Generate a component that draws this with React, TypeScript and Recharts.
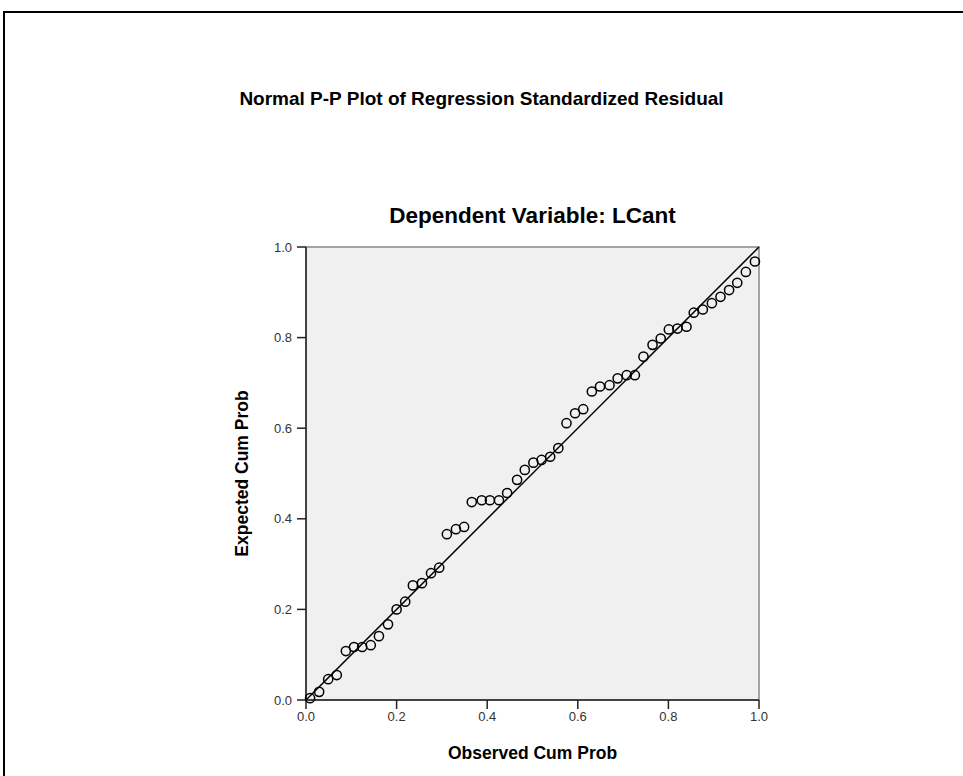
import {
  ScatterChart,
  Scatter,
  XAxis,
  YAxis,
  ReferenceArea,
  ReferenceLine,
  Label,
} from "recharts";

// observed cumulative probability (x) and expected cumulative probability (y)
const observed = [
  0.009, 0.029, 0.049, 0.068, 0.088, 0.106, 0.124, 0.143, 0.161, 0.181,
  0.2, 0.219, 0.236, 0.256, 0.276, 0.294, 0.311, 0.331, 0.349, 0.366,
  0.388, 0.406, 0.426, 0.444, 0.466, 0.483, 0.502, 0.52, 0.539, 0.557,
  0.575, 0.594, 0.612, 0.631, 0.649, 0.67, 0.688, 0.708, 0.726, 0.745,
  0.765, 0.783, 0.801, 0.82, 0.84, 0.856, 0.876, 0.896, 0.915, 0.934,
  0.952, 0.971, 0.991,
];
const expected = [
  0.004, 0.018, 0.046, 0.055, 0.108, 0.117, 0.117, 0.121, 0.141, 0.167,
  0.2, 0.217, 0.253, 0.258, 0.28, 0.292, 0.366, 0.377, 0.382, 0.437,
  0.441, 0.441, 0.441, 0.457, 0.486, 0.508, 0.524, 0.53, 0.537, 0.556,
  0.611, 0.633, 0.642, 0.681, 0.692, 0.695, 0.71, 0.717, 0.717, 0.758,
  0.784, 0.798, 0.818, 0.82, 0.824, 0.855, 0.862, 0.876, 0.89, 0.905,
  0.921, 0.945, 0.968,
];
const ticks = [0, 0.2, 0.4, 0.6, 0.8, 1];

const points = observed.map((x, i) => ({ x, y: expected[i] }));

const FONT = "'Liberation Sans', Arial, sans-serif";

function Ring(props: any) {
  const { cx, cy } = props;
  if (cx == null || cy == null) return null;
  return <circle cx={cx} cy={cy} r={4.6} fill="none" stroke="#000" strokeWidth={1.5} />;
}

export default function App() {
  const tick = { fontSize: 13, fill: "#333", fontFamily: FONT };
  const axisLabel = { fontSize: 17.5, fontWeight: "bold", fill: "#000", fontFamily: FONT };
  return (
    <div
      style={{
        position: "absolute",
        left: 0,
        top: 0,
        width: 963,
        height: 776,
        overflow: "hidden",
        background: "#fff",
        fontFamily: FONT,
      }}
    >
      <div
        style={{
          position: "absolute",
          left: 3,
          top: 11,
          width: 1200,
          height: 1200,
          border: "2px solid #000",
        }}
      />
      <div
        style={{
          position: "absolute",
          left: 0,
          width: 963,
          top: 88,
          textAlign: "center",
          fontSize: 19,
          fontWeight: "bold",
          color: "#000",
        }}
      >
        Normal P-P Plot of Regression Standardized Residual
      </div>
      <div
        style={{
          position: "absolute",
          left: 306,
          width: 453,
          top: 203,
          textAlign: "center",
          fontSize: 22.5,
          fontWeight: "bold",
          color: "#000",
        }}
      >
        Dependent Variable: LCant
      </div>
      <div style={{ position: "absolute", left: 0, top: 0 }}>
        <ScatterChart
          width={963}
          height={776}
          margin={{ top: 247, right: 204, bottom: 26, left: 246 }}
        >
          <XAxis
            type="number"
            dataKey="x"
            domain={[0, 1]}
            ticks={ticks}
            tickFormatter={(v: number) => v.toFixed(1)}
            tick={tick}
            tickSize={9}
            tickMargin={3}
            height={50}
            stroke="#222"
            strokeWidth={1.5}
          >
            <Label value="Observed Cum Prob" position="insideBottom" offset={-9} style={axisLabel} />
          </XAxis>
          <YAxis
            type="number"
            dataKey="y"
            domain={[0, 1]}
            ticks={ticks}
            tickFormatter={(v: number) => v.toFixed(1)}
            tick={tick}
            tickSize={9}
            tickMargin={5}
            width={60}
            stroke="#222"
            strokeWidth={1.5}
          >
            <Label
              value="Expected Cum Prob"
              angle={-90}
              position="insideLeft"
              offset={-4}
              style={{ ...axisLabel, textAnchor: "middle" }}
            />
          </YAxis>
          <ReferenceArea
            x1={0}
            x2={1}
            y1={0}
            y2={1}
            fill="#f0f0f0"
            fillOpacity={1}
            stroke="#888"
            strokeWidth={1.5}
          />
          <ReferenceLine
            segment={[
              { x: 0, y: 0 },
              { x: 1, y: 1 },
            ]}
            stroke="#000"
            strokeWidth={1.5}
          />
          <Scatter data={points} shape={<Ring />} isAnimationActive={false} />
        </ScatterChart>
      </div>
    </div>
  );
}
